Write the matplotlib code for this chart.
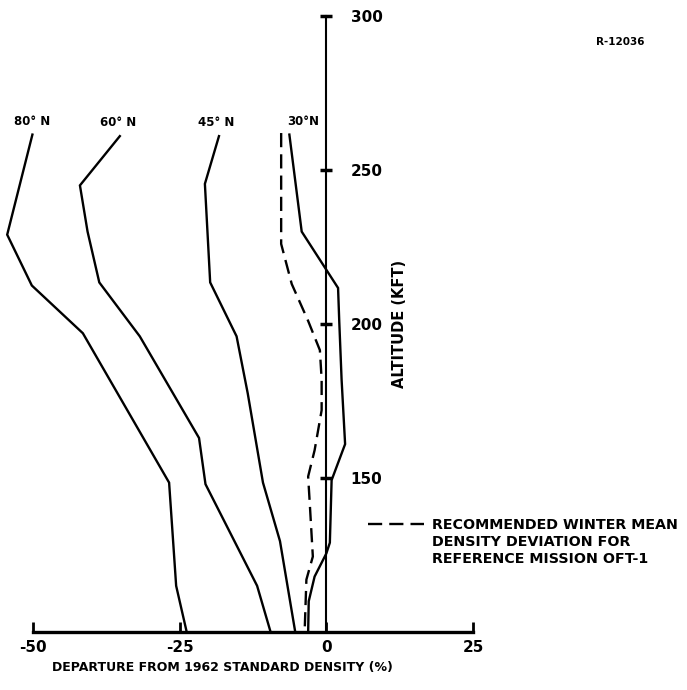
import matplotlib
matplotlib.use("Agg")
import matplotlib.pyplot as plt
from matplotlib.lines import Line2D

# ---- data (departure %, altitude kft) ----
lat_labels = ["80° N", "60° N", "45° N", "30°N"]

n80_x = [-50.1, -54.4, -50.2, -41.5, -26.8, -26.1, -25.6, -23.8]
n80_y = [261.5, 229.0, 212.5, 197.0, 148.5, 129.0, 115.0, 100.0]

n60_x = [-35.2, -42.0, -40.7, -38.7, -31.8, -21.7, -20.6, -11.8, -9.5]
n60_y = [261.0, 245.0, 230.0, 213.5, 196.0, 163.0, 148.0, 115.0, 100.0]

n45_x = [-18.3, -20.7, -19.8, -15.3, -13.4, -10.8, -7.9, -5.3]
n45_y = [261.0, 245.5, 213.5, 196.0, 177.5, 148.5, 129.5, 100.0]

n30_x = [-6.3, -4.2, 2.0, 2.2, 2.6, 3.2, 0.9, 0.6, 0.0, -2.0, -3.0, -3.1]
n30_y = [261.5, 230.0, 211.7, 201.0, 182.0, 161.0, 149.3, 129.0, 125.5, 118.0, 110.0, 100.0]

rec_x = [-7.7, -7.7, -5.9, -3.1, -1.1, -0.8, -0.8, -2.0, -3.1, -2.8, -2.3, -3.4, -3.7]
rec_y = [262.0, 226.0, 213.0, 201.0, 191.5, 182.0, 172.0, 159.0, 150.5, 141.0, 124.5, 117.0, 100.0]

x_ticks = [-50, -25, 0, 25]
x_ticklabels = ["-50", "-25", "0", "25"]
y_ticks = [150, 200, 250, 300]
y_ticklabels = ["150", "200", "250", "300"]

legend_lines = ["RECOMMENDED WINTER MEAN", "DENSITY DEVIATION FOR", "REFERENCE MISSION OFT-1"]

plt.rcParams['font.family'] = ['DejaVu Sans']
plt.rcParams['font.weight'] = 'bold'

fig = plt.figure(figsize=(6.87, 6.90), dpi=100)
ax = fig.add_axes([33/687, 58/690, 440/687, 616/690])
ax.set_xlim(-50, 25)
ax.set_ylim(100, 300)

lw = 1.7
series = [(n80_x, n80_y), (n60_x, n60_y), (n45_x, n45_y), (n30_x, n30_y)]
for (xs, ys) in series:
    ax.plot(xs, ys, color='black', lw=lw, clip_on=False, solid_joinstyle='miter')
rec_line, = ax.plot(rec_x, rec_y, color='black', lw=lw, dashes=(6, 3), clip_on=False)

# latitude labels above line tops
label_offsets = [(0, 5), (-1, 5), (-2, 5), (10, 5)]
for (xs, ys), lab, off in zip(series, lat_labels, label_offsets):
    ax.annotate(lab, (xs[0], ys[0]), xytext=off, textcoords='offset points',
                ha='center', va='bottom', fontsize=8.5, fontweight='bold',
                annotation_clip=False)

# axes styling
for s in ['top', 'left']:
    ax.spines[s].set_visible(False)
ax.spines['bottom'].set_bounds(-50, 25)
ax.spines['bottom'].set_linewidth(2.4)
ax.spines['right'].set_position(('data', 0))
ax.spines['right'].set_bounds(100, 300)
ax.spines['right'].set_linewidth(1.5)

ax.yaxis.set_ticks_position('right')
ax.yaxis.set_label_position('right')
ax.set_yticks(y_ticks)
ax.set_yticklabels(y_ticklabels)
ax.tick_params(axis='y', direction='inout', length=9, width=2.5, pad=13, labelsize=11)
ax.set_xticks(x_ticks)
ax.set_xticklabels(x_ticklabels)
ax.tick_params(axis='x', direction='in', length=7, width=2, pad=6, labelsize=11)
for t in ax.get_xticklabels() + ax.get_yticklabels():
    t.set_fontweight('bold')

ax.set_ylabel("ALTITUDE (KFT)", fontsize=10.5, fontweight='bold', labelpad=7, rotation=90)
ax.yaxis.label.set_y(0.5)
ax.set_xlabel("DEPARTURE FROM 1962 STANDARD DENSITY (%)", fontsize=9, fontweight='bold', labelpad=4)
ax.xaxis.label.set_x(0.43)

# legend
blank = Line2D([], [], linestyle='none')
leg = fig.legend([rec_line, blank, blank], legend_lines,
                 loc='upper left', bbox_to_anchor=(368/687, 1 - 518/690),
                 frameon=False, fontsize=10.3, handlelength=3.9, handletextpad=0.6,
                 labelspacing=0.2, borderpad=0, borderaxespad=0)
for t in leg.get_texts():
    t.set_fontweight('bold')

fig.text(620/687, 1 - 42/690, "R-12036", fontsize=7.5, fontweight='bold', ha='center', va='center')

fig.savefig("out.png", dpi=100)
